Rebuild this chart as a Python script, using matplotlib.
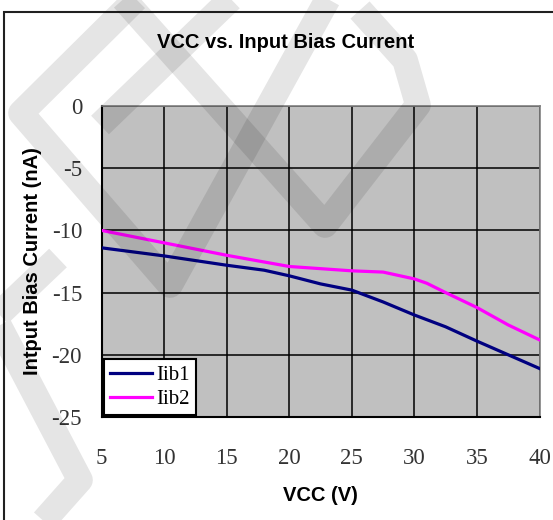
import matplotlib
matplotlib.use("Agg")
import matplotlib.pyplot as plt
from matplotlib.lines import Line2D
from matplotlib.patches import Rectangle

# data
vcc_1 = [5, 10, 15, 18, 20, 22.5, 25, 27.5, 30, 32.5, 35, 37.5, 40]
iib1 = [-11.4, -12.05, -12.8, -13.2, -13.65, -14.3, -14.8, -15.75, -16.8, -17.75, -18.9, -20.0, -21.1]

vcc_2 = [5, 10, 15, 20, 25, 27.5, 30, 31, 32.5, 35, 37.5, 40]
iib2 = [-10.0, -11.0, -12.0, -12.9, -13.25, -13.35, -13.9, -14.25, -15.0, -16.2, -17.6, -18.8]

x_ticks = [5, 10, 15, 20, 25, 30, 35, 40]
y_ticks = [0, -5, -10, -15, -20, -25]

W, H = 553, 520


def fx(px):
    return px / W


def fy(py):
    return 1 - py / H


fig = plt.figure(figsize=(W / 100, H / 100), dpi=100)
fig.patch.set_facecolor("white")

# outer frame
fig.add_artist(Rectangle((fx(4), -0.02), 1.1, fy(11.5) + 0.02, transform=fig.transFigure,
                         fill=False, edgecolor="#202020", linewidth=1.5))

ax = fig.add_axes([fx(101.5), fy(417), (539.5 - 101.5) / W, (417 - 106) / H])
ax.set_facecolor("#c0c0c0")

ax.plot(vcc_1, iib1, color="#000080", linewidth=2.3, label="Iib1", zorder=3)
ax.plot(vcc_2, iib2, color="#ff00ff", linewidth=2.3, label="Iib2", zorder=3)

ax.set_xlim(5, 40)
ax.set_ylim(-25, 0)
ax.set_xticks(x_ticks)
ax.set_yticks(y_ticks)
ax.set_axisbelow(True)
ax.grid(True, color="black", linewidth=1.1)

tick_font = {"family": "Liberation Serif", "size": 16.5}
ax.set_xticklabels([str(t) for t in x_ticks], fontdict=tick_font, color="#333333")
ax.set_yticklabels([str(t) for t in y_ticks], fontdict=tick_font, color="#333333")
ax.tick_params(axis="x", length=0, pad=22)
ax.tick_params(axis="y", length=0, pad=14)

for side in ["left", "bottom"]:
    ax.spines[side].set_color("black")
    ax.spines[side].set_linewidth(1.5)
for side in ["top", "right"]:
    ax.spines[side].set_color("#808080")
    ax.spines[side].set_linewidth(1.2)

leg = ax.legend(loc="lower left", bbox_to_anchor=(0.006, 0.006), borderaxespad=0,
                fancybox=False, framealpha=1, edgecolor="black",
                prop={"family": "Liberation Serif", "size": 15},
                handlelength=2.0, handletextpad=0.2, labelspacing=0.2, borderpad=0.3)
leg.get_frame().set_linewidth(1.5)
leg.set_zorder(5)

# titles as figure text
fig.text(fx(286), fy(48.5), "VCC vs. Input Bias Current", ha="center", va="baseline",
         fontsize=14.5, fontweight="bold", family="Liberation Sans")
fig.text(fx(320), fy(501), "VCC (V)", ha="center", va="baseline",
         fontsize=14.5, fontweight="bold", family="Liberation Sans")
fig.text(fx(33), fy(261.5), "Intput Bias Current (nA)", ha="center", va="center",
         rotation=90, fontsize=14.5, fontweight="bold", family="Liberation Sans")

# faint watermark strokes
marks = [
    [(140, -5), (21, 113), (170, 285), (330, -5)],
    [(120, -5), (325, 225), (418, 105), (405, 60), (360, 10)],
    [(235, -5), (100, 125)],
    [(58, 258), (-5, 318), (80, 480), (40, 525)],
]
for pts in marks:
    xs = [fx(p[0]) for p in pts]
    ys = [fy(p[1]) for p in pts]
    fig.add_artist(Line2D(xs, ys, transform=fig.transFigure, color="black", alpha=0.1,
                          linewidth=18.5, solid_joinstyle="round", solid_capstyle="butt",
                          zorder=2))

fig.savefig("out.png", dpi=100)
